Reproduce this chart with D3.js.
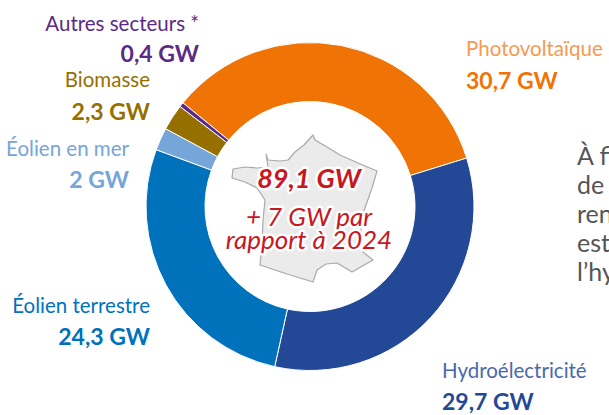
<!DOCTYPE html>
<html lang="fr">

<head>
  <meta charset="UTF-8">
  <title>Puissance renouvelable</title>
  <script src="https://d3js.org/d3.v7.min.js"></script>
  <style>
    html, body { margin: 0; padding: 0; background: #fff; overflow: hidden; }
    svg { display: block; }
    text { font-family: "Lato", sans-serif; }
    .name { font-size: 20.5px; }
    .value { font-size: 23px; font-weight: 700; }
    .centre {
      font-style: italic; fill: #c8171f; text-anchor: middle;
      stroke: #fff; stroke-width: 5px; stroke-linejoin: round; paint-order: stroke;
    }
    .side { font-size: 25px; fill: #555; }
  </style>
</head>

<body>
  <svg width="609" height="415"></svg>
  <script>
    // valeurs
    const sectors = ["Photovoltaïque", "Hydroélectricité", "Éolien terrestre", "Éolien en mer", "Biomasse", "Autres secteurs *"];
    const capacity = [30.7, 29.7, 24.3, 2, 2.3, 0.4];
    const valueLabels = ["30,7 GW", "29,7 GW", "24,3 GW", "2 GW", "2,3 GW", "0,4 GW"];
    const sliceColors = ["#f07305", "#234996", "#0072bc", "#75a5d9", "#956f00", "#5b2a86"];
    const nameColors = ["#f79a50", "#4a69a8", "#0072bc", "#75a5d9", "#956f00", "#5b2a86"];

    // placement des étiquettes : x, ancre, ligne de base du nom, ligne de base de la valeur
    const labelX = [466, 442, 150, 129, 150, 199];
    const labelAnchor = ["start", "start", "end", "end", "end", "end"];
    const nameY = [56, 378, 313, 156, 87, 31];
    const valueY = [89, 410, 345, 188, 120, 62];

    const sideLines = ["À fi", "de", "ren", "est", "l’hy"];
    const centreLines = [["89,1 GW", 188, 27, 700], ["+ 7 GW par", 226, 26, 400], ["rapport à 2024", 249, 26, 400]];

    // contour de la France, en fond du centre
    const franceOutline = [[232, 178], [233, 169], [245, 167], [257, 168], [268, 167], [266, 154], [268, 160], [280, 161], [288, 160], [295, 152], [304, 145], [313, 135], [315, 140], [327, 147], [340, 155], [358, 163], [377, 171], [372, 188], [366, 205], [360, 222], [362, 240], [363, 252], [373, 260], [352, 272], [337, 263], [326, 264], [317, 270], [313, 282], [287, 274], [260, 265], [262, 245], [263, 220], [265, 200], [257, 188], [245, 182], [232, 178]];

    const svg = d3.select("svg");
    const cx = 310, cy = 206.5, outer = 164, inner = 105;

    const pie = d3.pie().sort(null)
      .startAngle(-50.8 * Math.PI / 180)
      .endAngle((360 - 50.8) * Math.PI / 180);
    const arc = d3.arc().innerRadius(inner).outerRadius(outer);

    svg.append("g").attr("transform", `translate(${cx},${cy})`)
      .selectAll("path")
      .data(pie(capacity))
      .enter()
      .append("path")
      .attr("d", arc)
      .attr("fill", (d, i) => sliceColors[i])
      .attr("stroke", "#fff")
      .attr("stroke-width", 1);

    svg.append("path")
      .attr("d", d3.line()(franceOutline))
      .attr("fill", "#ebebeb")
      .attr("stroke", "#a9a9a9")
      .attr("stroke-width", 1.2)
      .attr("stroke-linejoin", "round");

    svg.selectAll(".centre")
      .data(centreLines)
      .enter()
      .append("text")
      .attr("class", "centre")
      .attr("x", 309)
      .attr("y", d => d[1])
      .style("font-size", d => d[2] + "px")
      .style("font-weight", d => d[3])
      .text(d => d[0]);

    sectors.forEach(function (name, i) {
      svg.append("text").attr("class", "name")
        .attr("x", labelX[i]).attr("y", nameY[i])
        .attr("text-anchor", labelAnchor[i])
        .attr("fill", nameColors[i])
        .text(name);
      svg.append("text").attr("class", "value")
        .attr("x", labelX[i]).attr("y", valueY[i])
        .attr("text-anchor", labelAnchor[i])
        .attr("fill", sliceColors[i])
        .text(valueLabels[i]);
    });

    svg.selectAll(".side")
      .data(sideLines)
      .enter()
      .append("text")
      .attr("class", "side")
      .attr("x", 577)
      .attr("y", (d, i) => 165 + i * 29)
      .text(d => d);
  </script>
</body>

</html>
